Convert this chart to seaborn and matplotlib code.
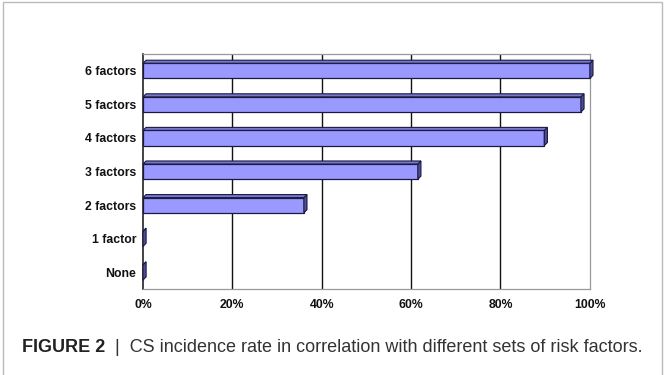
import numpy as np
import pandas as pd
import matplotlib
matplotlib.use("Agg")
import matplotlib.pyplot as plt
from matplotlib.patches import Polygon, Rectangle
from matplotlib.ticker import FixedLocator, PercentFormatter
import seaborn as sns

# data (percent of patients with CS)
categories = ["6 factors", "5 factors", "4 factors", "3 factors", "2 factors", "1 factor", "None"]
incidence = [100.0, 98.0, 89.8, 61.5, 36.0, 0.0, 0.0]
x_ticks = [0, 20, 40, 60, 80, 100]

df = pd.DataFrame({"group": categories, "rate": incidence})

sns.set_theme(style="white")
plt.rcParams["font.family"] = ["Liberation Sans", "DejaVu Sans"]

fig = plt.figure(figsize=(6.65, 3.75), dpi=100)
ax = fig.add_axes([0.215, 0.229, 0.672, 0.627])

sns.barplot(data=df, x="rate", y="group", order=categories, orient="h",
            color="#9999FF", saturation=1, edgecolor="#1a1a40", linewidth=0.9,
            width=0.45, ax=ax, zorder=3)

ax.set_xlim(0, 100)
ax.set_ylim(len(categories) - 0.5, -0.5)

# fake excel-style depth on each bar
dx = 0.7   # data units in x
dy = 0.09  # category units
for p in list(ax.patches):
    p.set_clip_on(False)
    x0, y0 = p.get_x(), p.get_y()
    w, h = p.get_width(), p.get_height()
    x1 = x0 + w
    top = min(y0, y0 + h)
    bot = max(y0, y0 + h)
    side = Polygon([(x1, top), (x1 + dx, top - dy), (x1 + dx, bot - dy), (x1, bot)],
                   closed=True, facecolor="#4d4d99", edgecolor="#1a1a40", lw=0.8,
                   zorder=4, clip_on=False)
    cap = Polygon([(x0, top), (x0 + dx, top - dy), (x1 + dx, top - dy), (x1, top)],
                  closed=True, facecolor="#7777cc", edgecolor="#1a1a40", lw=0.8,
                  zorder=4, clip_on=False)
    ax.add_patch(side)
    ax.add_patch(cap)

# grid on back wall
ax.xaxis.set_major_locator(FixedLocator(x_ticks))
ax.xaxis.set_major_formatter(PercentFormatter(decimals=0))
for v in x_ticks[1:-1]:
    ax.axvline(v, color="#111111", lw=1.0, zorder=1)

ax.yaxis.set_minor_locator(FixedLocator(np.arange(-0.5, len(categories), 1.0)))
ax.tick_params(axis="y", which="major", length=0, pad=5)
ax.tick_params(axis="y", which="minor", length=3, width=0.8, color="#333333", direction="out")
ax.tick_params(axis="x", which="major", length=3, width=0.8, color="#333333", direction="out", pad=4)

for lab in ax.get_yticklabels() + ax.get_xticklabels():
    lab.set_fontweight("bold")
    lab.set_fontsize(8.8)
    lab.set_color("#111111")

ax.set_xlabel("")
ax.set_ylabel("")

for s in ["top", "right", "bottom"]:
    ax.spines[s].set_color("#999999")
    ax.spines[s].set_linewidth(0.9)
ax.spines["left"].set_color("#222222")
ax.spines["left"].set_linewidth(1.2)

# outer frame of the figure panel
fig.patches.append(Rectangle((0.004, -0.01), 0.992, 1.004, transform=fig.transFigure,
                             fill=False, edgecolor="#bbbbbb", lw=1.0))

# caption
cap_font = ["Liberation Sans Narrow", "Liberation Sans", "DejaVu Sans"]
t1 = fig.text(0.033, 0.062, "FIGURE 2", fontsize=13, fontweight="bold", color="#222222",
              family=cap_font, va="baseline")
fig.canvas.draw()
bb = t1.get_window_extent(fig.canvas.get_renderer())
x_next = bb.x1 / fig.bbox.width
fig.text(x_next, 0.062, "  |  CS incidence rate in correlation with different sets of risk factors.",
         fontsize=13, color="#333333", family=cap_font, va="baseline")

fig.savefig("out.png", dpi=100)
